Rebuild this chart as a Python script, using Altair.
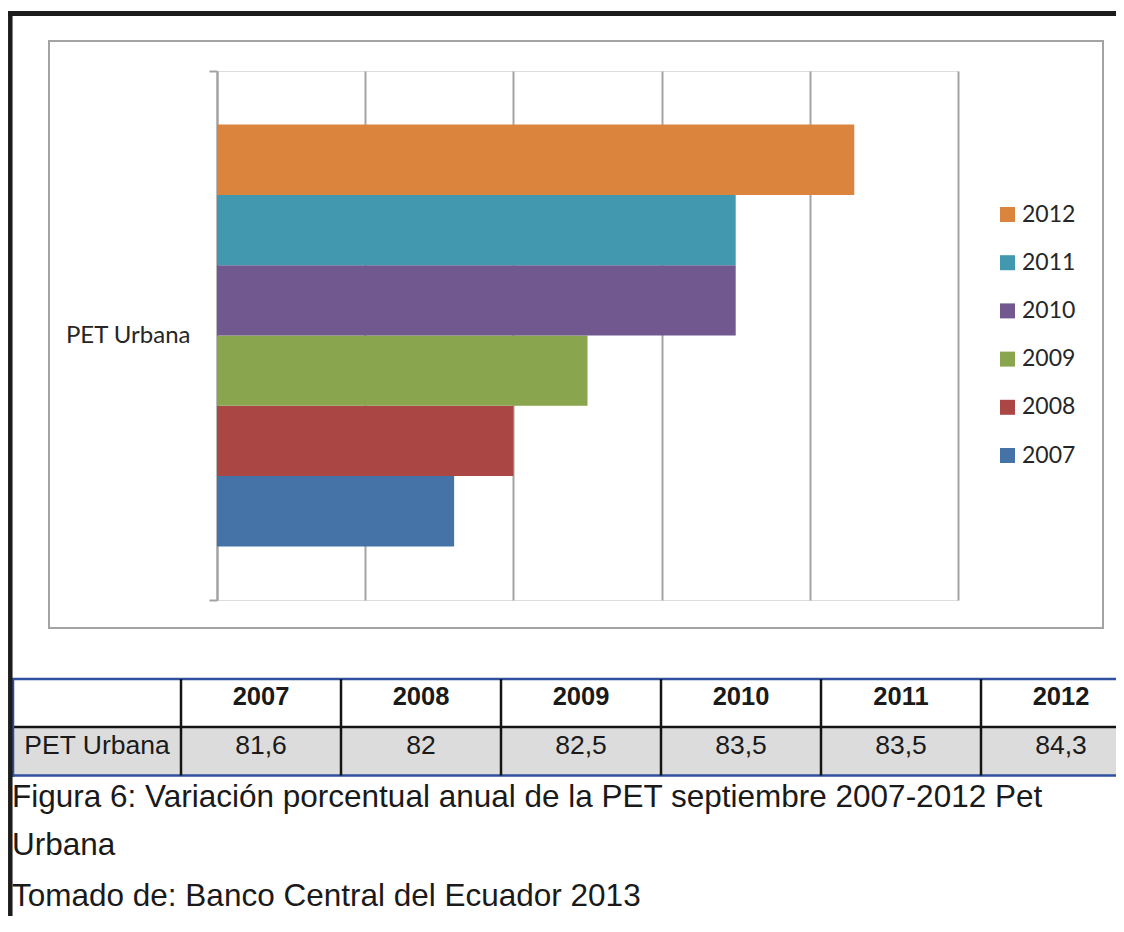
import altair as alt
import pandas as pd

# ---- data ----
years = ["2007", "2008", "2009", "2010", "2011", "2012"]
values = [81.6, 82, 82.5, 83.5, 83.5, 84.3]
category = "PET Urbana"
colors = ["#4572A7", "#AA4643", "#89A54E", "#71588F", "#4198AF", "#DB843D"]
grid_ticks = [80, 81, 82, 83, 84, 85]
caption_lines = [
    "Figura 6: Variación porcentual anual de la PET septiembre 2007-2012 Pet",
    "Urbana",
    "Tomado de: Banco Central del Ecuador 2013",
]

years_desc = years[::-1]
colors_desc = colors[::-1]

df = pd.DataFrame({"year": years, "value": values, "cat": [category] * len(years)})
one = pd.DataFrame({"a": [0]})

# plot origin in page coordinates
X0, Y0 = 217, 71


def px(x):
    return x - X0


def py(y):
    return y - Y0


GRAY = "#a3a3a3"
BLUE = "#2f4f9f"
DARK = "#141414"

# ---- decorations ----
frame_left = alt.Chart(one).mark_rule(color="#1c1c1c", strokeWidth=4.5).encode(
    x=alt.value(px(10.3)), y=alt.value(py(11)), y2=alt.value(py(940))
)
frame_top = alt.Chart(one).mark_rule(color="#1c1c1c", strokeWidth=5).encode(
    x=alt.value(px(8)), x2=alt.value(px(1130)), y=alt.value(py(13.5))
)
chart_box = alt.Chart(one).mark_rect(filled=False, stroke=GRAY, strokeWidth=2).encode(
    x=alt.value(px(49)), x2=alt.value(px(1103)), y=alt.value(py(41)), y2=alt.value(py(628))
)

# ---- bars ----
bars = alt.Chart(df).mark_bar().encode(
    x=alt.X(
        "value:Q",
        scale=alt.Scale(domain=[grid_ticks[0], grid_ticks[-1]], zero=False, nice=False),
        axis=alt.Axis(values=grid_ticks, labels=False, ticks=False, domain=False,
                      grid=True, gridColor=GRAY, gridWidth=2, title=None),
    ),
    x2=alt.datum(grid_ticks[0]),
    y=alt.Y(
        "cat:N",
        title=None,
        scale=alt.Scale(paddingInner=0, paddingOuter=0),
        axis=alt.Axis(tickBand="extent", domainColor=GRAY, domainWidth=2,
                      tickColor=GRAY, tickWidth=2, tickSize=8,
                      labelFont="Lato", labelFontSize=24, labelColor="#262626",
                      labelPadding=19, labelAngle=0),
    ),
    yOffset=alt.YOffset("year:N", sort=years_desc,
                        scale=alt.Scale(paddingInner=0, paddingOuter=0.762)),
    color=alt.Color(
        "year:N",
        scale=alt.Scale(domain=years_desc, range=colors_desc),
        legend=alt.Legend(orient="none", legendX=779, legendY=132, title=None,
                          symbolType="square", symbolSize=225, symbolStrokeWidth=0,
                          labelFont="Lato", labelFontSize=23, labelColor="#262626",
                          labelOffset=3, rowPadding=24.2, padding=0),
    ),
)

# ---- table ----
tdf = pd.DataFrame({"year": years, "value": values})
col_scale = alt.Scale(type="band", domain=years, range=[px(181), px(1141)],
                      paddingInner=0, paddingOuter=0)

row_fill = alt.Chart(one).mark_rect(color="#dcdcdc").encode(
    x=alt.value(px(13)), x2=alt.value(px(1130)), y=alt.value(py(728)), y2=alt.value(py(775))
)
line_top = alt.Chart(one).mark_rule(color=BLUE, strokeWidth=2.5).encode(
    x=alt.value(px(12)), x2=alt.value(px(1130)), y=alt.value(py(679))
)
line_mid = alt.Chart(one).mark_rule(color=DARK, strokeWidth=2.5).encode(
    x=alt.value(px(12)), x2=alt.value(px(1130)), y=alt.value(py(727))
)
line_bot = alt.Chart(one).mark_rule(color=BLUE, strokeWidth=2.5).encode(
    x=alt.value(px(12)), x2=alt.value(px(1130)), y=alt.value(py(775.5))
)
line_left = alt.Chart(one).mark_rule(color=BLUE, strokeWidth=2.5).encode(
    x=alt.value(px(13)), y=alt.value(py(678)), y2=alt.value(py(777))
)
vlines = alt.Chart(tdf).mark_rule(color=DARK, strokeWidth=2.5).encode(
    x=alt.X("year:N", scale=col_scale, axis=None, bandPosition=0),
    y=alt.value(py(679)), y2=alt.value(py(775.5)),
)
header = alt.Chart(tdf).mark_text(font="Liberation Sans", fontSize=25.5, fontWeight="bold",
                                  color="#1a1a1a", baseline="middle").encode(
    x=alt.X("year:N", scale=col_scale, axis=None),
    y=alt.value(py(697)),
    text="year:N",
)
row_vals = alt.Chart(tdf).transform_calculate(
    label="replace(toString(datum.value), '.', ',')"
).mark_text(font="Liberation Sans", fontSize=26.5, color="#1a1a1a", baseline="middle").encode(
    x=alt.X("year:N", scale=col_scale, axis=None),
    y=alt.value(py(746)),
    text="label:N",
)
row_label = alt.Chart(pd.DataFrame({"cat": [category]})).mark_text(
    font="Liberation Sans", fontSize=26.5, color="#1a1a1a", baseline="middle"
).encode(x=alt.value(px(97)), y=alt.value(py(746)), text="cat:N")

# ---- caption ----
cap_layers = []
for line, yb in zip(caption_lines, [807, 855, 906]):
    cap_layers.append(
        alt.Chart(pd.DataFrame({"t": [line]})).mark_text(
            font="Liberation Sans", fontSize=31.5, color="#1a1a1a",
            align="left", baseline="alphabetic"
        ).encode(x=alt.value(px(12)), y=alt.value(py(yb)), text="t:N")
    )

chart = alt.layer(
    chart_box, row_fill, bars, line_top, line_mid, line_bot, line_left, vlines,
    header, row_vals, row_label, *cap_layers, frame_left, frame_top
).resolve_scale(x="independent").properties(
    width=741, height=529,
    padding={"left": 209, "top": 63, "right": 158, "bottom": 316},
    autosize=alt.AutoSizeParams(type="none"),
).configure_view(strokeWidth=0).configure(background="white")

chart.save("out.html", embed_options={"renderer": "svg", "actions": False})
